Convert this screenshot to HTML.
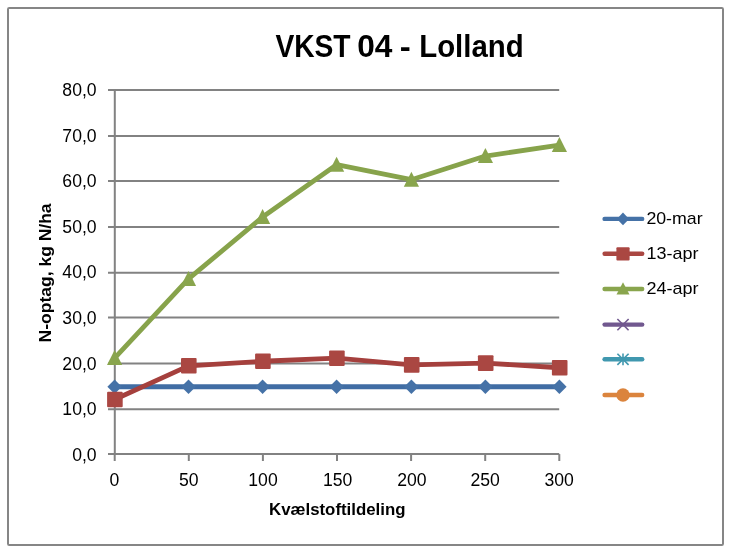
<!DOCTYPE html>
<html><head><meta charset="utf-8"><title>VKST 04 - Lolland</title>
<style>
html,body{margin:0;padding:0;background:#fff;}
body{width:732px;height:554px;overflow:hidden;}
svg{display:block;}
text{font-family:"Liberation Sans",sans-serif;fill:#000;}
.b{font-weight:bold;}
</style></head><body>
<svg width="732" height="554" viewBox="0 0 732 554">
<defs><filter id="soft" x="0" y="0" width="732" height="554" filterUnits="userSpaceOnUse"><feGaussianBlur stdDeviation="0.45"/></filter></defs>
<g filter="url(#soft)">
<rect x="0" y="0" width="732" height="554" fill="#fff"/>
<rect x="8" y="8" width="715" height="537" rx="1.2" fill="#fff" stroke="#868686" stroke-width="2"/>

<g stroke="#828282" stroke-width="2" fill="none">
<line x1="108" y1="454.10" x2="559.2" y2="454.10"/>
<line x1="108" y1="409.20" x2="559.2" y2="409.20"/>
<line x1="108" y1="363.50" x2="559.2" y2="363.50"/>
<line x1="108" y1="317.60" x2="559.2" y2="317.60"/>
<line x1="108" y1="272.80" x2="559.2" y2="272.80"/>
<line x1="108" y1="227.00" x2="559.2" y2="227.00"/>
<line x1="108" y1="181.00" x2="559.2" y2="181.00"/>
<line x1="108" y1="136.00" x2="559.2" y2="136.00"/>
<line x1="108" y1="90.00" x2="559.2" y2="90.00"/>
<line x1="114.8" y1="89.20" x2="114.8" y2="454.90"/>
<line x1="114.70" y1="454.10" x2="114.70" y2="461"/>
<line x1="188.80" y1="454.10" x2="188.80" y2="461"/>
<line x1="262.90" y1="454.10" x2="262.90" y2="461"/>
<line x1="337.00" y1="454.10" x2="337.00" y2="461"/>
<line x1="411.10" y1="454.10" x2="411.10" y2="461"/>
<line x1="485.20" y1="454.10" x2="485.20" y2="461"/>
<line x1="559.30" y1="454.10" x2="559.30" y2="461"/>
</g>
<polyline points="114.60,386.74 188.50,386.74 262.60,386.74 336.60,386.74 411.40,386.74 485.40,386.74 559.40,386.74" fill="none" stroke="#406DA4" stroke-width="4.8" stroke-linejoin="round" stroke-linecap="round"/>
<polygon points="107.40,386.74 114.60,379.44 121.80,386.74 114.60,394.04" fill="#4572A7"/>
<polygon points="181.30,386.74 188.50,379.44 195.70,386.74 188.50,394.04" fill="#4572A7"/>
<polygon points="255.40,386.74 262.60,379.44 269.80,386.74 262.60,394.04" fill="#4572A7"/>
<polygon points="329.40,386.74 336.60,379.44 343.80,386.74 336.60,394.04" fill="#4572A7"/>
<polygon points="404.20,386.74 411.40,379.44 418.60,386.74 411.40,394.04" fill="#4572A7"/>
<polygon points="478.20,386.74 485.40,379.44 492.60,386.74 485.40,394.04" fill="#4572A7"/>
<polygon points="552.20,386.74 559.40,379.44 566.60,386.74 559.40,394.04" fill="#4572A7"/>
<polyline points="114.60,399.49 188.50,365.81 262.60,361.25 336.60,358.21 411.40,364.90 485.40,363.08 559.40,367.76" fill="none" stroke="#A53F3D" stroke-width="4.8" stroke-linejoin="round" stroke-linecap="round"/>
<rect x="107.10" y="391.69" width="15.60" height="15.60" rx="1" fill="#AA4643"/>
<rect x="181.00" y="358.01" width="15.60" height="15.60" rx="1" fill="#AA4643"/>
<rect x="255.10" y="353.45" width="15.60" height="15.60" rx="1" fill="#AA4643"/>
<rect x="329.10" y="350.41" width="15.60" height="15.60" rx="1" fill="#AA4643"/>
<rect x="403.90" y="357.10" width="15.60" height="15.60" rx="1" fill="#AA4643"/>
<rect x="477.90" y="355.28" width="15.60" height="15.60" rx="1" fill="#AA4643"/>
<rect x="551.90" y="359.96" width="15.60" height="15.60" rx="1" fill="#AA4643"/>
<polyline points="114.60,358.11 188.50,278.92 262.60,217.02 336.60,164.69 411.40,179.70 485.40,156.04 559.40,145.12" fill="none" stroke="#87A34B" stroke-width="4.8" stroke-linejoin="round" stroke-linecap="round"/>
<polygon points="114.60,350.11 122.20,365.11 107.00,365.11" fill="#89A54E"/>
<polygon points="188.50,270.92 196.10,285.92 180.90,285.92" fill="#89A54E"/>
<polygon points="262.60,209.02 270.20,224.02 255.00,224.02" fill="#89A54E"/>
<polygon points="336.60,156.69 344.20,171.69 329.00,171.69" fill="#89A54E"/>
<polygon points="411.40,171.70 419.00,186.70 403.80,186.70" fill="#89A54E"/>
<polygon points="485.40,148.04 493.00,163.04 477.80,163.04" fill="#89A54E"/>
<polygon points="559.40,137.12 567.00,152.12 551.80,152.12" fill="#89A54E"/>
<text class="b" y="57.2" font-size="31.4"><tspan x="275.4" textLength="75.2" lengthAdjust="spacingAndGlyphs">VKST</tspan><tspan> </tspan><tspan x="357.2" textLength="35.2" lengthAdjust="spacingAndGlyphs">04</tspan><tspan> </tspan><tspan x="399.8" textLength="11" lengthAdjust="spacingAndGlyphs">-</tspan><tspan> </tspan><tspan x="419.2" textLength="104.5" lengthAdjust="spacingAndGlyphs">Lolland</tspan></text>
<text x="96.6" y="461.00" font-size="17.6" text-anchor="end" fill="#111">0,0</text>
<text x="96.6" y="415.36" font-size="17.6" text-anchor="end" fill="#111">10,0</text>
<text x="96.6" y="369.72" font-size="17.6" text-anchor="end" fill="#111">20,0</text>
<text x="96.6" y="324.08" font-size="17.6" text-anchor="end" fill="#111">30,0</text>
<text x="96.6" y="278.44" font-size="17.6" text-anchor="end" fill="#111">40,0</text>
<text x="96.6" y="232.80" font-size="17.6" text-anchor="end" fill="#111">50,0</text>
<text x="96.6" y="187.16" font-size="17.6" text-anchor="end" fill="#111">60,0</text>
<text x="96.6" y="141.52" font-size="17.6" text-anchor="end" fill="#111">70,0</text>
<text x="96.6" y="95.88" font-size="17.6" text-anchor="end" fill="#111">80,0</text>
<text x="114.50" y="486.0" font-size="17.6" text-anchor="middle" fill="#111">0</text>
<text x="188.70" y="486.0" font-size="17.6" text-anchor="middle" fill="#111">50</text>
<text x="263.00" y="486.0" font-size="17.6" text-anchor="middle" fill="#111">100</text>
<text x="337.70" y="486.0" font-size="17.6" text-anchor="middle" fill="#111">150</text>
<text x="411.90" y="486.0" font-size="17.6" text-anchor="middle" fill="#111">200</text>
<text x="485.20" y="486.0" font-size="17.6" text-anchor="middle" fill="#111">250</text>
<text x="559.20" y="486.0" font-size="17.6" text-anchor="middle" fill="#111">300</text>
<text class="b" x="269" y="514.8" font-size="16.5" textLength="136.5" lengthAdjust="spacingAndGlyphs">Kvælstoftildeling</text>
<text class="b" transform="translate(51.1 342.4) rotate(-90)" x="0" y="0" font-size="16.8" textLength="139" lengthAdjust="spacingAndGlyphs">N-optag, kg N/ha</text>
<line x1="604.6" y1="218.90" x2="642.2" y2="218.90" stroke="#4572A7" stroke-width="4.4" stroke-linecap="round"/>
<line x1="604.6" y1="253.80" x2="642.2" y2="253.80" stroke="#AA4643" stroke-width="4.4" stroke-linecap="round"/>
<line x1="604.6" y1="289.00" x2="642.2" y2="289.00" stroke="#89A54E" stroke-width="4.4" stroke-linecap="round"/>
<line x1="604.6" y1="324.60" x2="642.2" y2="324.60" stroke="#71588F" stroke-width="4.4" stroke-linecap="round"/>
<line x1="604.6" y1="359.30" x2="642.2" y2="359.30" stroke="#4198AF" stroke-width="4.4" stroke-linecap="round"/>
<line x1="604.6" y1="395.00" x2="642.2" y2="395.00" stroke="#DB843D" stroke-width="4.4" stroke-linecap="round"/>
<polygon points="616.90,218.90 623.00,212.60 629.10,218.90 623.00,225.20" fill="#4572A7"/>
<rect x="616.40" y="247.20" width="13.20" height="13.20" rx="1" fill="#AA4643"/>
<polygon points="623.00,282.20 629.50,294.60 616.50,294.60" fill="#89A54E"/>
<g stroke="#71588F" stroke-width="1.6" stroke-linecap="butt" fill="none"><line x1="617.40" y1="319.00" x2="628.60" y2="330.20"/><line x1="617.40" y1="330.20" x2="628.60" y2="319.00"/></g>
<g stroke="#4198AF" stroke-width="1.6" stroke-linecap="butt" fill="none"><line x1="617.40" y1="353.70" x2="628.60" y2="364.90"/><line x1="617.40" y1="364.90" x2="628.60" y2="353.70"/><line x1="623.00" y1="353.40" x2="623.00" y2="365.20"/></g>
<circle cx="623.00" cy="395.00" r="6.7" fill="#DB843D"/>
<text x="646.4" y="224.10" font-size="17" fill="#111" textLength="56.2" lengthAdjust="spacingAndGlyphs">20-mar</text>
<text x="646.4" y="259.00" font-size="17" fill="#111" textLength="52.0" lengthAdjust="spacingAndGlyphs">13-apr</text>
<text x="646.4" y="294.20" font-size="17" fill="#111" textLength="52.0" lengthAdjust="spacingAndGlyphs">24-apr</text>
</g>
</svg>
</body></html>
